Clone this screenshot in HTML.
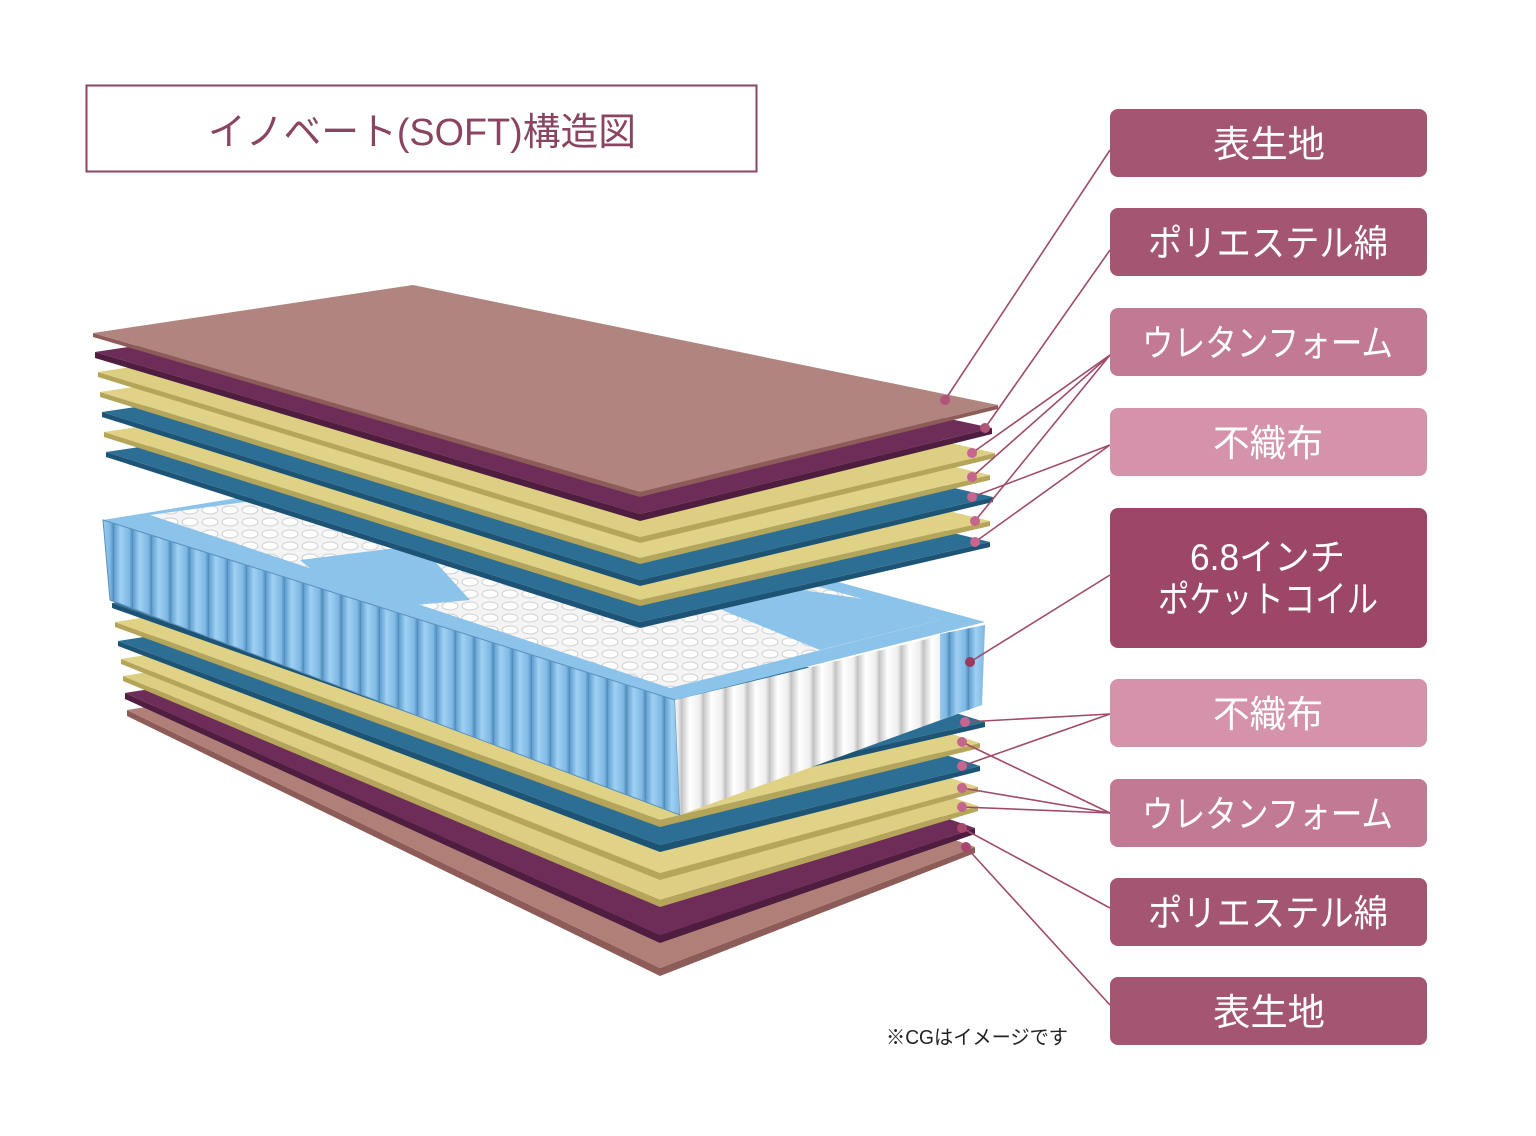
<!DOCTYPE html>
<html><head><meta charset="utf-8"><style>
html,body{margin:0;padding:0;background:#fff;}
svg{display:block;}
text{font-family:"Liberation Sans","Noto Sans CJK JP",sans-serif;}
</style></head><body>
<svg width="1536" height="1136" viewBox="0 0 1536 1136" xmlns="http://www.w3.org/2000/svg">
<defs>
<linearGradient id="cylB" x1="0" x2="1" y1="0" y2="0">
<stop offset="0" stop-color="#5f9fd0"/><stop offset="0.35" stop-color="#9fd0f2"/><stop offset="0.8" stop-color="#7db8e4"/><stop offset="1" stop-color="#4f88b8"/></linearGradient>
<pattern id="coilB" width="19" height="200" patternUnits="userSpaceOnUse"><rect width="19" height="200" fill="url(#cylB)"/></pattern>
<linearGradient id="cylW" x1="0" x2="1" y1="0" y2="0">
<stop offset="0" stop-color="#c9c9c9"/><stop offset="0.35" stop-color="#ffffff"/><stop offset="0.8" stop-color="#eeeeee"/><stop offset="1" stop-color="#bdbdbd"/></linearGradient>
<pattern id="coilW" width="22" height="200" patternUnits="userSpaceOnUse"><rect width="22" height="200" fill="url(#cylW)"/></pattern>
<pattern id="dots" width="20" height="12" patternUnits="userSpaceOnUse"><rect width="20" height="12" fill="#f4f4f4"/><ellipse cx="10" cy="6" rx="8" ry="4" fill="#fff" stroke="#cfcfcf" stroke-width="1"/></pattern>
</defs>

<rect x="86.5" y="85.5" width="670" height="86" fill="#fff" stroke="#8a4461" stroke-width="2"/>
<text x="422" y="145" font-size="38" fill="#8a4461" text-anchor="middle" textLength="428" lengthAdjust="spacingAndGlyphs">イノベート(SOFT)構造図</text>

<!-- bottom stack -->
<g>
<polygon points="127,710 660,968 975,847 440,660 975,847 975,853 660,976 127,716" fill="#8e5c58"/>
<polygon points="127,710 660,968 975,847 440,660" fill="#b08078"/>
<polygon points="125,693 660,935 975,828 440,643 975,828 975,834 660,943 125,699" fill="#4f1d3f"/>
<polygon points="125,693 660,935 975,828 440,643" fill="#6e2d58"/>
<polygon points="123,676 660,900 978,806 440,626 978,806 978,811 660,907 123,681" fill="#b5a55a"/>
<polygon points="123,676 660,900 978,806 440,626" fill="#dccf82"/>
<polygon points="121,659 660,873 978,787 440,609 978,787 978,792 660,880 121,664" fill="#b5a55a"/>
<polygon points="121,659 660,873 978,787 440,609" fill="#e0d387"/>
<polygon points="118,641 660,845 980,766 440,591 980,766 980,771 660,852 118,646" fill="#1d5475"/>
<polygon points="118,641 660,845 980,766 440,591" fill="#2d6e95"/>
<polygon points="115,622 660,820 980,743 440,572 980,743 980,748 660,827 115,627" fill="#b5a55a"/>
<polygon points="115,622 660,820 980,743 440,572" fill="#dfd285"/>
<polygon points="112,603 660,795 985,722 440,553 985,722 985,727 660,802 112,608" fill="#1d5475"/>
<polygon points="112,603 660,795 985,722 440,553" fill="#2d6e95"/>
</g>

<!-- coil block -->
<polygon points="103,520 420,468 985,622 675,700" fill="#8cc3ea"/>
<polygon points="150,515 420,478 940,620 670,688" fill="url(#dots)"/>
<polygon points="600,560 870,600 940,620 820,650" fill="#8cc3ea"/>
<polygon points="300,560 420,545 470,600 360,610" fill="#8cc3ea"/>
<polygon points="103,520 675,700 680,815 110,600" fill="url(#coilB)"/>
<polygon points="103,520 675,700 680,815 110,600" fill="none" stroke="#5d90bb" stroke-width="1"/>
<polygon points="675,700 985,625 982,705 680,815" fill="url(#coilW)"/>
<polygon points="940,634 985,625 982,705 940,720" fill="url(#coilB)"/>

<!-- top stack -->
<g>
<polygon points="106,452 640,622 990,542 426,404 990,542 990,547 640,628 106,457" fill="#1d5475"/>
<polygon points="106,452 640,622 990,542 426,404" fill="#2d6e95"/>
<polygon points="104,432 640,600 990,521 424,384 990,521 990,526 640,606 104,437" fill="#b5a55a"/>
<polygon points="104,432 640,600 990,521 424,384" fill="#dfd285"/>
<polygon points="102,412 640,580 993,497 422,364 993,497 993,502 640,586 102,417" fill="#1d5475"/>
<polygon points="102,412 640,580 993,497 422,364" fill="#2d6e95"/>
<polygon points="100,392 640,558 990,475 420,344 990,475 990,480 640,564 100,397" fill="#b5a55a"/>
<polygon points="100,392 640,558 990,475 420,344" fill="#e0d387"/>
<polygon points="98,372 640,537 995,453 418,324 995,453 995,458 640,543 98,377" fill="#b5a55a"/>
<polygon points="98,372 640,537 995,453 418,324" fill="#dccf82"/>
<polygon points="95,352 640,514 992,428 415,304 992,428 992,434 640,521 95,358" fill="#4f1d3f"/>
<polygon points="95,352 640,514 992,428 415,304" fill="#6e2d58"/>
<polygon points="93,333 640,492 998,405 413,285 998,405 998,409 640,497 93,337" fill="#8e5c58"/>
<polygon points="93,333 640,492 998,405 413,285" fill="#b08580"/>
</g>

<!-- connectors -->
<g stroke="#a04a6a" stroke-width="1.6" fill="none">
<line x1="1110" y1="150" x2="945" y2="400"/>
<line x1="1110" y1="250" x2="985" y2="428"/>
<line x1="1110" y1="355" x2="972" y2="453"/>
<line x1="1110" y1="355" x2="972" y2="477"/>
<line x1="1110" y1="355" x2="975" y2="521"/>
<line x1="1110" y1="445" x2="972" y2="497"/>
<line x1="1110" y1="445" x2="975" y2="542"/>
<line x1="1110" y1="575" x2="970" y2="662"/>
<line x1="1110" y1="714" x2="965" y2="722"/>
<line x1="1110" y1="714" x2="962" y2="766"/>
<line x1="1110" y1="813" x2="962" y2="742"/>
<line x1="1110" y1="813" x2="962" y2="788"/>
<line x1="1110" y1="813" x2="962" y2="807"/>
<line x1="1110" y1="908" x2="962" y2="828"/>
<line x1="1110" y1="1005" x2="966" y2="847"/>
</g>
<g fill="#c4668d">
<circle cx="945" cy="400" r="5" fill="#b05478"/>
<circle cx="985" cy="428" r="5" fill="#b05478"/>
<circle cx="972" cy="453" r="5"/><circle cx="972" cy="477" r="5"/>
<circle cx="972" cy="497" r="5"/><circle cx="975" cy="521" r="5"/>
<circle cx="975" cy="542" r="5"/>
<circle cx="970" cy="662" r="5" fill="#9c3a5e"/>
<circle cx="965" cy="722" r="5"/><circle cx="962" cy="742" r="5"/>
<circle cx="962" cy="766" r="5"/><circle cx="962" cy="788" r="5"/>
<circle cx="962" cy="807" r="5"/>
<circle cx="962" cy="828" r="5" fill="#a8476e"/>
<circle cx="966" cy="847" r="5" fill="#a8476e"/>
</g>

<!-- label boxes -->
<g font-size="37" fill="#fff" lengthAdjust="spacingAndGlyphs">
<rect x="1110" y="109" width="317" height="68" rx="8" fill="#a45572"/>
<text x="1213" y="157" fill="#fff" textLength="112" lengthAdjust="spacingAndGlyphs">表生地</text>
<rect x="1110" y="208" width="317" height="68" rx="8" fill="#a45572"/>
<text x="1148" y="256" fill="#fff" textLength="240" lengthAdjust="spacingAndGlyphs">ポリエステル綿</text>
<rect x="1110" y="308" width="317" height="68" rx="8" fill="#c27a94"/>
<text x="1142" y="356" fill="#fff" textLength="251" lengthAdjust="spacingAndGlyphs">ウレタンフォーム</text>
<rect x="1110" y="408" width="317" height="68" rx="8" fill="#d593ab"/>
<text x="1213" y="456" fill="#fff" textLength="110" lengthAdjust="spacingAndGlyphs">不織布</text>
<rect x="1110" y="508" width="317" height="140" rx="8" fill="#9c4768"/>
<text x="1190" y="570" fill="#fff" textLength="155" lengthAdjust="spacingAndGlyphs">6.8インチ</text>
<text x="1158" y="612" fill="#fff" textLength="220" lengthAdjust="spacingAndGlyphs">ポケットコイル</text>
<rect x="1110" y="679" width="317" height="68" rx="8" fill="#d593ab"/>
<text x="1213" y="727" fill="#fff" textLength="110" lengthAdjust="spacingAndGlyphs">不織布</text>
<rect x="1110" y="779" width="317" height="68" rx="8" fill="#c27a94"/>
<text x="1142" y="827" fill="#fff" textLength="251" lengthAdjust="spacingAndGlyphs">ウレタンフォーム</text>
<rect x="1110" y="878" width="317" height="68" rx="8" fill="#a45572"/>
<text x="1148" y="926" fill="#fff" textLength="240" lengthAdjust="spacingAndGlyphs">ポリエステル綿</text>
<rect x="1110" y="977" width="317" height="68" rx="8" fill="#a45572"/>
<text x="1213" y="1025" fill="#fff" textLength="112" lengthAdjust="spacingAndGlyphs">表生地</text>
</g>
<text x="886" y="1044" font-size="20" fill="#222" textLength="182" lengthAdjust="spacingAndGlyphs">※CGはイメージです</text>
</svg>
</body></html>
